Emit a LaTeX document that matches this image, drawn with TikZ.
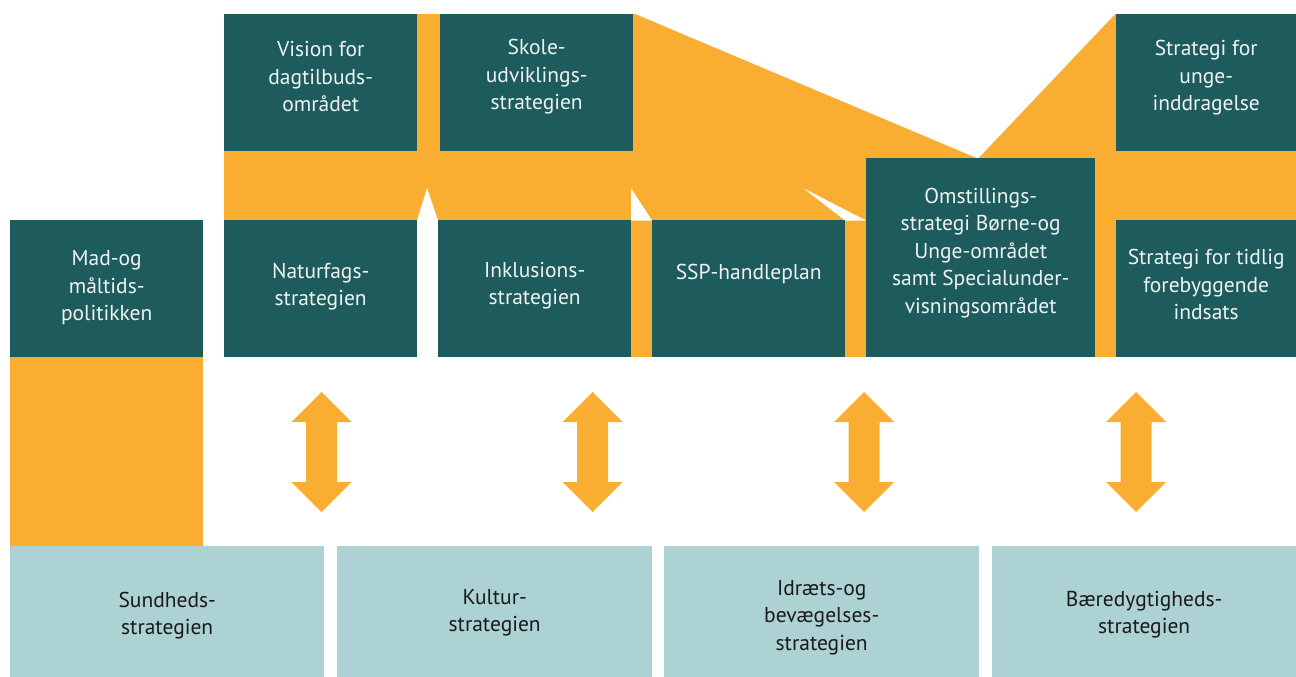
\documentclass[tikz,border=0pt]{standalone}
\usepackage{fontspec}
\setmainfont{PT Sans}
\definecolor{dk}{HTML}{1E5B5C}
\definecolor{orn}{HTML}{F9AE31}
\definecolor{lt}{HTML}{ADD2D3}
\definecolor{wt}{HTML}{EEF3F3}
\definecolor{bk}{HTML}{1A1A1A}
\begin{document}
\begin{tikzpicture}[x=1pt,y=-1pt,
  box/.style={inner sep=0pt,anchor=north west},
  dbox/.style={box,fill=dk},
  lbox/.style={box,fill=lt},
  txt/.style={inner sep=0pt,align=center,font=\fontsize{21.5}{27.5}\selectfont},
  dtxt/.style={txt,text=wt},
  ltxt/.style={txt,text=bk},
  dblarrow/.pic={\fill[orn] (0,-60) -- (30,-30) -- (15.5,-30) -- (15.5,30) -- (30,30)
     -- (0,60) -- (-30,30) -- (-15.5,30) -- (-15.5,-30) -- (-30,-30) -- cycle;}]
\useasboundingbox (0,0) rectangle (1296,677);
% orange background
\fill[orn] (224,151) rectangle (1296,220);
\fill[orn] (417,14) rectangle (440,151);
\fill[orn] (633,14) rectangle (1116,151);
\fill[white] (633,13) -- (978,158.5) -- (1116,13) -- cycle;
\fill[orn] (631,220) rectangle (652,357);
\fill[orn] (845,220) rectangle (866,357);
\fill[orn] (1095,220) rectangle (1116,357);
\fill[orn] (10,357) rectangle (203,546);
% white notches
\fill[white] (417,220.5) -- (427,188) -- (438,220.5) -- cycle;
\fill[white] (631,188) -- (631,220.5) -- (652,220.5) -- cycle;
\fill[white] (803,188) -- (845,220.5) -- (866,220.5) -- cycle;
% top row
\node[dbox,minimum width=193pt,minimum height=137pt] (vision) at (224,14) {};
\node[dbox,minimum width=193pt,minimum height=137pt] (skole) at (440,14) {};
\node[dbox,minimum width=180pt,minimum height=137pt] (unge) at (1116,14) {};
% middle row
\node[dbox,minimum width=193pt,minimum height=137pt] (mad) at (10,220) {};
\node[dbox,minimum width=193pt,minimum height=137pt] (natur) at (224,220) {};
\node[dbox,minimum width=193pt,minimum height=137pt] (inkl) at (438,220) {};
\node[dbox,minimum width=193pt,minimum height=137pt] (ssp) at (652,220) {};
\node[dbox,minimum width=229pt,minimum height=199pt] (omst) at (866,158) {};
\node[dbox,minimum width=180pt,minimum height=137pt] (tidlig) at (1116,220) {};
% bottom row
\node[lbox,minimum width=314pt,minimum height=131pt] (sund) at (10,546) {};
\node[lbox,minimum width=315pt,minimum height=131pt] (kultur) at (337,546) {};
\node[lbox,minimum width=315pt,minimum height=131pt] (idraet) at (664,546) {};
\node[lbox,minimum width=304pt,minimum height=131pt] (baer) at (992,546) {};
% texts
\node[dtxt,yshift=6pt] (visiont) at (vision.center) {Vision for\\dagtilbuds-\\området};
\node[dtxt,yshift=6pt] (skolet) at (skole.center) {Skole-\\udviklings-\\strategien};
\node[dtxt,yshift=5pt] (unget) at (unge.center) {Strategi for\\unge-\\inddragelse};
\node[dtxt,yshift=1pt] (madt) at (mad.center) {Mad-og\\måltids-\\politikken};
\node[dtxt,yshift=2pt] (naturt) at (natur.center) {Naturfags-\\strategien};
\node[dtxt,yshift=3pt] (inklt) at (inkl.center) {Inklusions-\\strategien};
\node[dtxt,yshift=15pt] (sspt) at (ssp.center) {SSP-handleplan};
\node[dtxt,yshift=5pt] (omstt) at (omst.center) {Omstillings-\\strategi Børne-og\\Unge-området\\samt Specialunder-\\visningsområdet};
\node[dtxt,yshift=4pt] (tidligt) at (tidlig.center) {Strategi for tidlig\\forebyggende\\indsats};
\node[ltxt,yshift=-4pt] (sundt) at (sund.center) {Sundheds-\\strategien};
\node[ltxt,yshift=-1pt] (kulturt) at (kultur.center) {Kultur-\\strategien};
\node[ltxt,yshift=-6pt] (idraett) at (idraet.center) {Idræts-og\\bevægelses-\\strategien};
\node[ltxt,yshift=-3pt] (baert) at (baer.center) {Bæredygtigheds-\\strategien};
% arrows
\pic at (321.5,452) {dblarrow};
\pic at (592.5,452) {dblarrow};
\pic at (864,452) {dblarrow};
\pic at (1136,452) {dblarrow};
\end{tikzpicture}
\end{document}
